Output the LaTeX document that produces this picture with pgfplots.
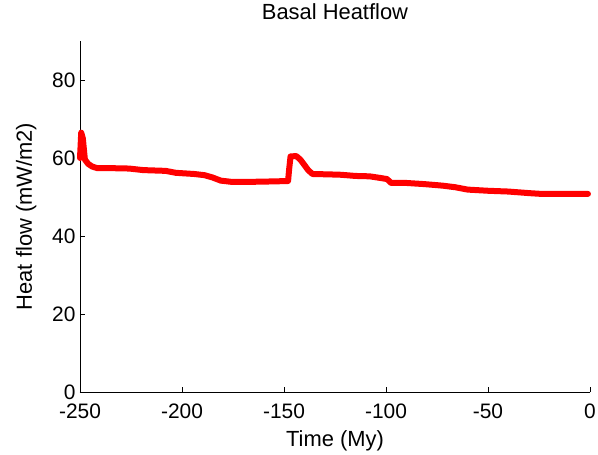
\documentclass[border=0pt]{standalone}
\usepackage{fontspec}
\setmainfont{Liberation Sans}
\usepackage{pgfplots}
\pgfplotsset{compat=1.18}
\begin{document}
\begin{tikzpicture}
\useasboundingbox (-80bp,-63bp) rectangle (518bp,392bp);
\begin{axis}[
  at={(0,0)}, anchor=south west,
  scale only axis, width=510bp, height=351bp,
  xmin=-250, xmax=0, ymin=0, ymax=90,
  axis x line*=bottom, axis y line*=left,
  x axis line style={-}, y axis line style={-},
  axis line style={line width=0.9bp, black},
  xtick={-250,-200,-150,-100,-50,0},
  ytick={0,20,40,60,80},
  tick align=inside,
  major tick length=5bp,
  tick style={line width=0.9bp, black},
  /pgf/number format/assume math mode=true,
  tick label style={font=\fontsize{21}{24}\selectfont},
  xticklabel style={anchor=base, yshift=-26bp},
  yticklabel style={xshift=-1bp},
  title={Basal Heatflow},
  title style={font=\fontsize{22}{26}\selectfont, at={(axis description cs:0.5,1)}, anchor=base, yshift=16bp},
  xlabel={Time (My)},
  xlabel style={font=\fontsize{22}{26}\selectfont, at={(axis description cs:0.5,0)}, anchor=base, yshift=-54bp},
  ylabel={Heat flow (mW/m2)},
  ylabel style={font=\fontsize{22}{26}\selectfont, at={(axis description cs:0,0.5)}, anchor=base, yshift=48bp},
  clip=false,
]
\addplot[color={rgb,255:red,255;green,0;blue,0}, line width=6bp, line join=round, line cap=round] coordinates {
(-250,60) (-249.4,66.5) (-248.6,65) (-247.6,59.6) (-246,58.5) (-244,57.8) (-241.5,57.4)
(-235,57.4) (-226,57.3) (-219,56.9) (-208,56.7) (-203,56.2) (-194,55.9) (-189,55.6)
(-185,55.0) (-181,54.2) (-176,53.9) (-165,53.9) (-155,54.0) (-148,54.1)
(-147.5,57) (-146.8,60.4) (-144,60.5) (-142,59.6) (-140,58.2) (-138,56.8) (-136,55.9)
(-128,55.8) (-122,55.7) (-115,55.4) (-108,55.3) (-103,54.9) (-99.5,54.6) (-97.5,53.6)
(-90,53.6) (-81,53.3) (-72,52.9) (-66,52.5) (-60,51.9) (-50,51.6) (-40,51.4)
(-30,51.0) (-24,50.8) (-10,50.8) (-1,50.8)
};
\end{axis}
\end{tikzpicture}
\end{document}
